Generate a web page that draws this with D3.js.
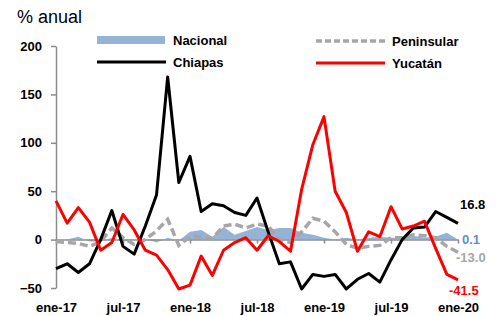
<!DOCTYPE html>
<html>
<head>
<meta charset="utf-8">
<script src="https://cdn.jsdelivr.net/npm/d3@7"></script>
<style>
    body { margin: 0; background: #fff; }
    svg { display: block; font-family: Arial, "Liberation Sans", sans-serif; }
</style>
</head>
<body>
<div id="chart"></div>
<script>
// monthly, ene-17 .. ene-20 (37 months)
const tickLabels = ['ene-17', 'jul-17', 'ene-18', 'jul-18', 'ene-19', 'jul-19', 'ene-20']
const yTicks = [-50, 0, 50, 100, 150, 200]

const nacional = [0, 0, 3, -2, -2, 2, -2, 0, 1, -3, 2, -1, 8, 10, 3, 13, 5, 9, 13, 10, 12, 12, 7, 5, 2, 0, 2, 0, 2, 3, 2, 2, 4, 2, 3, 7, 0.1]
const peninsular = [-2, -3, -4, -7, -2, 12, 2, -5, 0, 9, 21, -6, 3, 3, 1, 14, 16, 12, 16, 14, 0, -3, 8, 22, 19, 8, -5, -9, -7, -6, 2, 2, 5, 4, 2, -7, -13]
const chiapas = [-30, -25, -34, -25, 0, 30, -7, -15, 14, 46, 168, 59, 86, 29, 37, 35, 28, 25, 43, 8, -25, -23, -51, -36, -38, -36, -51, -41, -35, -44, -21, 0, 12, 13, 29, 23, 16.8]
const yucatan = [40, 17, 33, 18, -11, -3, 26, 10, -11, -16, -31, -51, -47, -17, -37, -11, -3, 2, -11, 4, -2, -12, 52, 98, 127, 50, 28, -12, 8, 3, 34, 11, 14, 19, -9, -36, -41.5]

const endLabels = ['16.8', '0.1', '-13.0', '-41.5']

const width = 500
const height = 316
const n = chiapas.length

const x = d3.scaleLinear()
    .domain([0, n - 1])
    .range([56, 458])

const y = d3.scaleLinear()
    .domain([-50, 200])
    .range([288, 46])

const svg = d3.select('#chart')
    .append('svg')
    .attr('width', width)
    .attr('height', height)

svg.append('text')
    .attr('x', 17)
    .attr('y', 23)
    .attr('font-size', 18)
    .attr('fill', '#000')
    .text('% anual')

// Nacional as area
const area = d3.area()
    .x((d, i) => x(i))
    .y0(y(0))
    .y1((d) => y(d))

svg.append('path')
    .datum(nacional)
    .attr('fill', '#95b3d7')
    .attr('d', area)

// axes
svg.append('g')
    .attr('transform', `translate(${x(0)}, 0)`)
    .call(d3.axisLeft(y).tickValues(yTicks).tickSize(5).tickSizeOuter(0).tickPadding(9))

svg.append('g')
    .attr('transform', `translate(0, ${y(0)})`)
    .call(d3.axisBottom(x)
        .tickValues(d3.range(0, n, 6))
        .tickFormat((d, i) => tickLabels[i])
        .tickSize(4)
        .tickSizeOuter(0)
        .tickPadding(59))

svg.selectAll('.domain, .tick line')
    .attr('stroke', '#8c8c8c')
    .attr('stroke-width', 1.5)

svg.selectAll('.tick text')
    .attr('font-family', 'Arial, "Liberation Sans", sans-serif')
    .attr('font-size', 13)
    .attr('font-weight', 'bold')
    .attr('fill', '#000')

const line = d3.line()
    .x((d, i) => x(i))
    .y((d) => y(d))

svg.append('path')
    .datum(peninsular)
    .attr('fill', 'none')
    .attr('stroke', '#a6a6a6')
    .attr('stroke-width', 3.5)
    .attr('stroke-dasharray', '8,4')
    .attr('d', line)

svg.append('path')
    .datum(chiapas)
    .attr('fill', 'none')
    .attr('stroke', '#000')
    .attr('stroke-width', 3)
    .attr('stroke-linejoin', 'round')
    .attr('d', line)

svg.append('path')
    .datum(yucatan)
    .attr('fill', 'none')
    .attr('stroke', '#ff0000')
    .attr('stroke-width', 3)
    .attr('stroke-linejoin', 'round')
    .attr('d', line)

// end-of-series labels
const last = n - 1
const labelData = [
    { t: endLabels[0], v: chiapas[last], c: '#000', dx: 2, dy: -19 },
    { t: endLabels[1], v: nacional[last], c: '#5b8fd6', dx: 4, dy: 0 },
    { t: endLabels[2], v: peninsular[last], c: '#a6a6a6', dx: -2, dy: 5 },
    { t: endLabels[3], v: yucatan[last], c: '#ff0000', dx: -9, dy: 11 }
]

svg.selectAll('.endlabel')
    .data(labelData)
    .enter().append('text')
    .attr('class', 'endlabel')
    .attr('x', (d) => x(last) + d.dx)
    .attr('y', (d) => y(d.v) + d.dy)
    .attr('dy', '0.35em')
    .attr('font-size', 13)
    .attr('font-weight', 'bold')
    .attr('fill', (d) => d.c)
    .text((d) => d.t)

// legend
const legend = [
    { name: 'Nacional', x: 97, y: 40, type: 'area', c: '#95b3d7' },
    { name: 'Chiapas', x: 97, y: 62, type: 'line', c: '#000' },
    { name: 'Peninsular', x: 316, y: 41, type: 'dash', c: '#a6a6a6' },
    { name: 'Yucatán', x: 316, y: 63, type: 'line', c: '#ff0000' }
]

const lg = svg.selectAll('.legend')
    .data(legend)
    .enter().append('g')
    .attr('class', 'legend')
    .attr('transform', (d) => `translate(${d.x}, ${d.y})`)

lg.filter((d) => d.type === 'area')
    .append('rect')
    .attr('x', 0)
    .attr('y', -4)
    .attr('width', 68)
    .attr('height', 8)
    .attr('fill', (d) => d.c)

lg.filter((d) => d.type !== 'area')
    .append('line')
    .attr('x1', 0)
    .attr('x2', 69)
    .attr('stroke', (d) => d.c)
    .attr('stroke-width', (d) => d.type === 'dash' ? 3.5 : 3)
    .attr('stroke-dasharray', (d) => d.type === 'dash' ? '6,3' : null)

lg.append('text')
    .attr('x', 76)
    .attr('dy', '0.35em')
    .attr('font-size', 13)
    .attr('font-weight', 'bold')
    .attr('fill', '#000')
    .text((d) => d.name)
</script>
</body>
</html>
